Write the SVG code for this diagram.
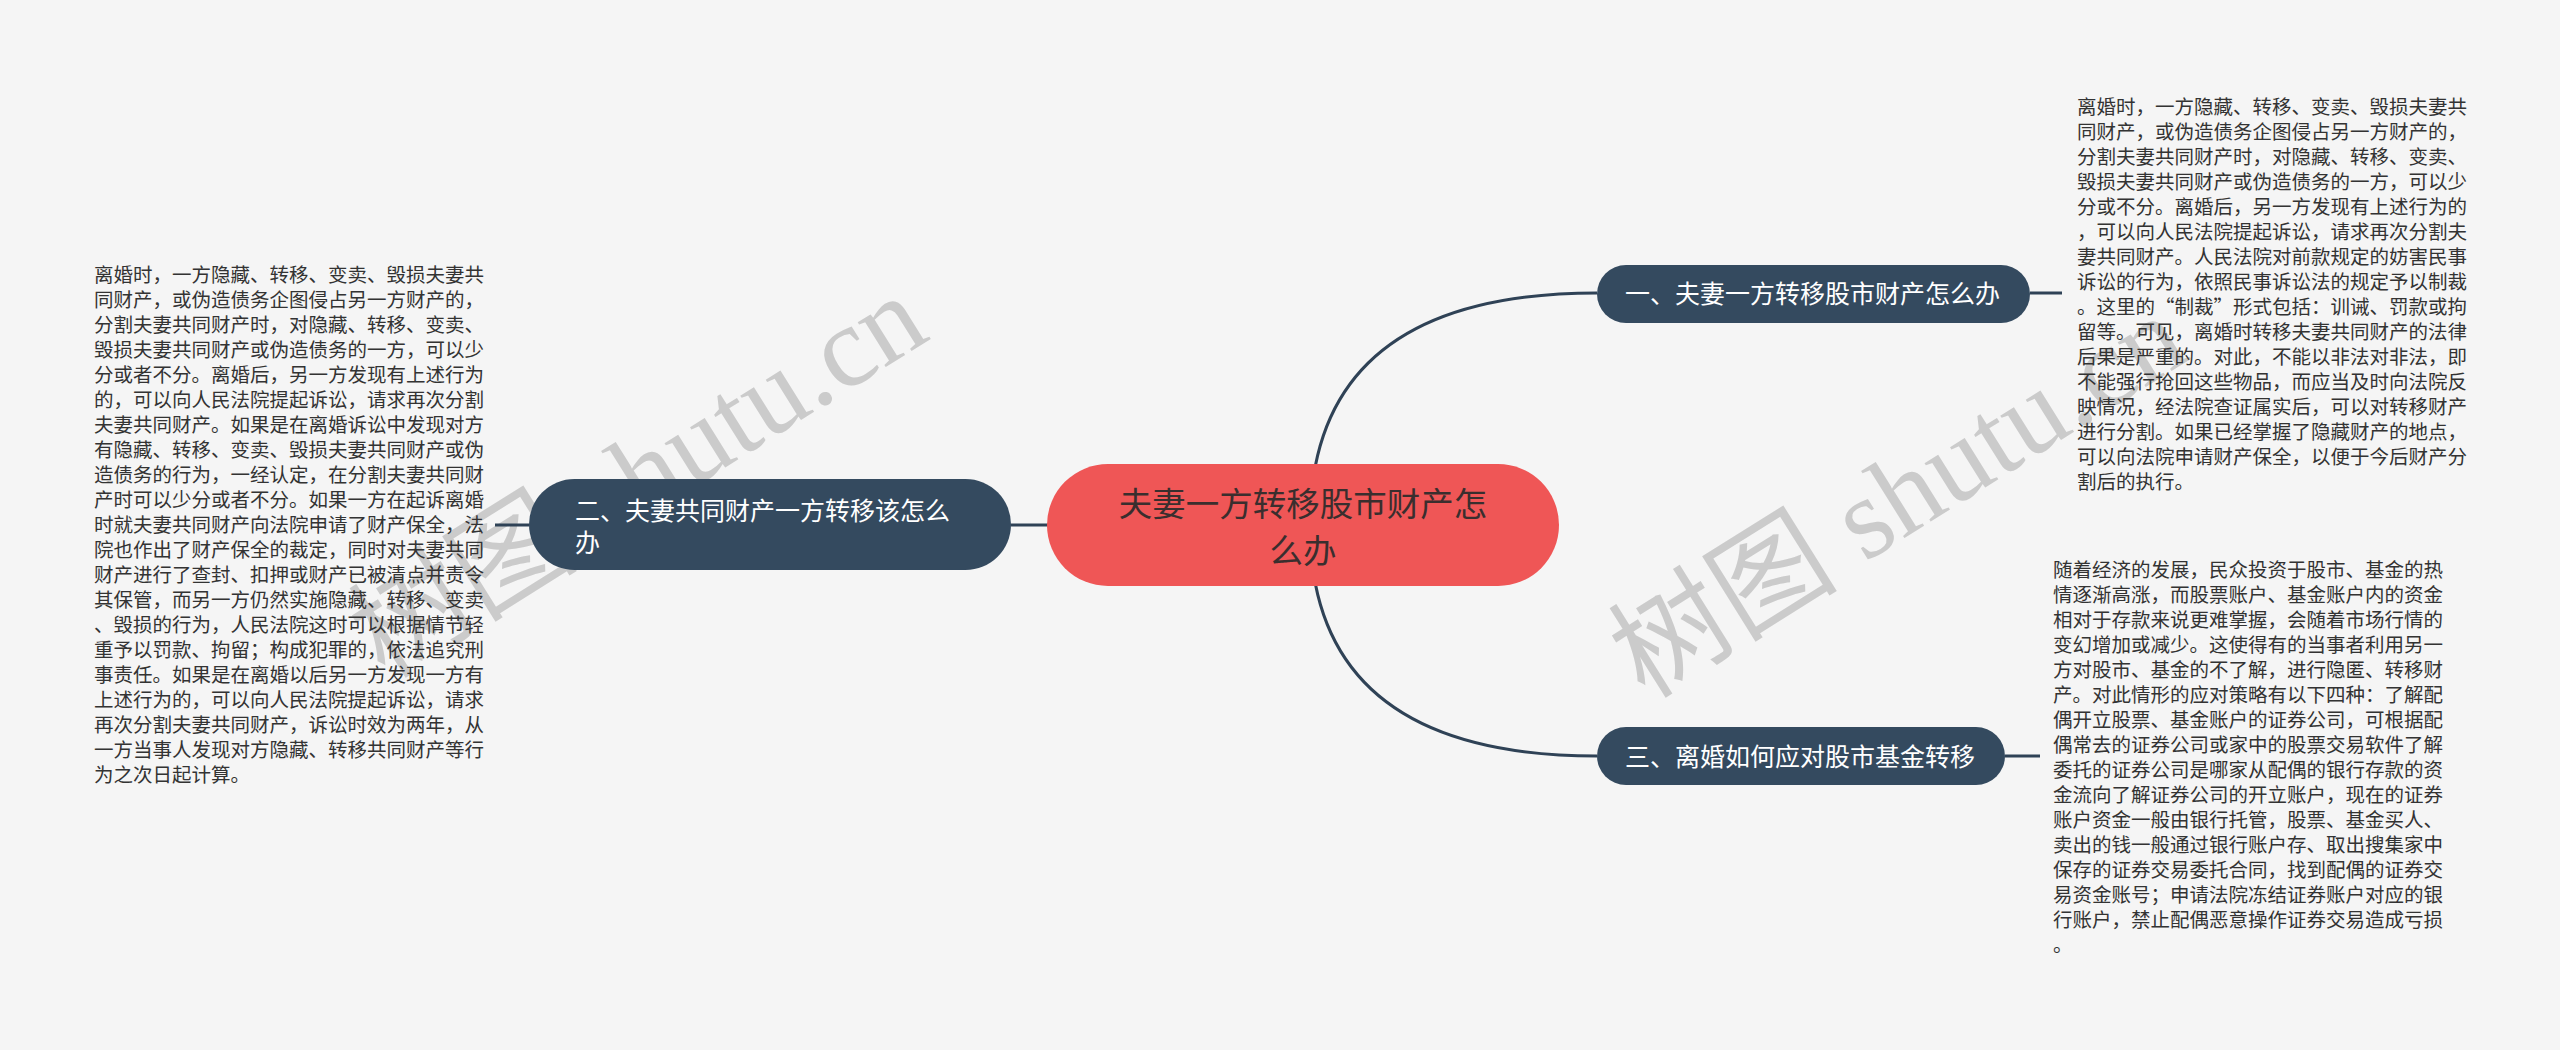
<svg xmlns="http://www.w3.org/2000/svg" width="2560" height="1050" viewBox="0 0 2560 1050">
<style>
.bg{fill:#f5f5f5}
.conn{fill:none;stroke:#2f4256;stroke-width:3}
.wm{font-family:"Liberation Serif","Noto Sans CJK SC",serif;font-size:115px;fill:#cbcbcb}
.root rect{fill:#ef5656}
.root text{font-family:"Noto Sans CJK SC",sans-serif;font-size:33.5px;fill:#3a2e2e;text-anchor:middle}
.branch rect{fill:#344a5f}
.branch text{font-family:"Noto Sans CJK SC",sans-serif;font-size:25px;fill:#ffffff}
.leaf text{font-family:"Noto Sans CJK SC",sans-serif;font-size:19.5px;fill:#333333}
</style>
<rect class="bg" x="0" y="0" width="2560" height="1050"/>
<g id="watermarks">
<text class="wm" transform="translate(385 680) rotate(-32)">树图 shutu.cn</text>
<text class="wm" transform="translate(1645 700) rotate(-32)">树图 shutu.cn</text>
</g>
<g id="connectors">
<path class="conn" d="M1100 525 H1011"/>
<path class="conn" d="M1310 525 Q1310 293 1597 293"/>
<path class="conn" d="M1310 525 Q1310 756 1597 756"/>
<path class="conn" d="M495 525 H529"/>
<path class="conn" d="M2030 293 H2062"/>
<path class="conn" d="M2005 756 H2040"/>
</g>
<g id="root" class="root">
<rect x="1047" y="464" width="512" height="122" rx="61"/>
<text x="1303" y="516">夫妻一方转移股市财产怎</text>
<text x="1303" y="563">么办</text>
</g>
<g id="branch2" class="branch">
<rect x="529" y="479" width="482" height="91" rx="45.5"/>
<text x="575" y="519.5">二、夫妻共同财产一方转移该怎么</text>
<text x="575" y="551.5">办</text>
</g>
<g id="branch1" class="branch">
<rect x="1597" y="265" width="433" height="58" rx="29"/>
<text x="1625" y="302.5">一、夫妻一方转移股市财产怎么办</text>
</g>
<g id="branch3" class="branch">
<rect x="1597" y="727" width="408" height="58" rx="29"/>
<text x="1625" y="765.5">三、离婚如何应对股市基金转移</text>
</g>
<g id="leaf2" class="leaf">
<text x="94" y="282.4">离婚时，一方隐藏、转移、变卖、毁损夫妻共</text>
<text x="94" y="307.4">同财产，或伪造债务企图侵占另一方财产的，</text>
<text x="94" y="332.4">分割夫妻共同财产时，对隐藏、转移、变卖、</text>
<text x="94" y="357.4">毁损夫妻共同财产或伪造债务的一方，可以少</text>
<text x="94" y="382.4">分或者不分。离婚后，另一方发现有上述行为</text>
<text x="94" y="407.4">的，可以向人民法院提起诉讼，请求再次分割</text>
<text x="94" y="432.4">夫妻共同财产。如果是在离婚诉讼中发现对方</text>
<text x="94" y="457.4">有隐藏、转移、变卖、毁损夫妻共同财产或伪</text>
<text x="94" y="482.4">造债务的行为，一经认定，在分割夫妻共同财</text>
<text x="94" y="507.4">产时可以少分或者不分。如果一方在起诉离婚</text>
<text x="94" y="532.4">时就夫妻共同财产向法院申请了财产保全，法</text>
<text x="94" y="557.4">院也作出了财产保全的裁定，同时对夫妻共同</text>
<text x="94" y="582.4">财产进行了查封、扣押或财产已被清点并责令</text>
<text x="94" y="607.4">其保管，而另一方仍然实施隐藏、转移、变卖</text>
<text x="94" y="632.4">、毁损的行为，人民法院这时可以根据情节轻</text>
<text x="94" y="657.4">重予以罚款、拘留；构成犯罪的，依法追究刑</text>
<text x="94" y="682.4">事责任。如果是在离婚以后另一方发现一方有</text>
<text x="94" y="707.4">上述行为的，可以向人民法院提起诉讼，请求</text>
<text x="94" y="732.4">再次分割夫妻共同财产，诉讼时效为两年，从</text>
<text x="94" y="757.4">一方当事人发现对方隐藏、转移共同财产等行</text>
<text x="94" y="782.4">为之次日起计算。</text>
</g>
<g id="leaf1" class="leaf">
<text x="2077" y="114.4">离婚时，一方隐藏、转移、变卖、毁损夫妻共</text>
<text x="2077" y="139.4">同财产，或伪造债务企图侵占另一方财产的，</text>
<text x="2077" y="164.4">分割夫妻共同财产时，对隐藏、转移、变卖、</text>
<text x="2077" y="189.4">毁损夫妻共同财产或伪造债务的一方，可以少</text>
<text x="2077" y="214.4">分或不分。离婚后，另一方发现有上述行为的</text>
<text x="2077" y="239.4">，可以向人民法院提起诉讼，请求再次分割夫</text>
<text x="2077" y="264.4">妻共同财产。人民法院对前款规定的妨害民事</text>
<text x="2077" y="289.4">诉讼的行为，依照民事诉讼法的规定予以制裁</text>
<text x="2077" y="314.4">。这里的“制裁”形式包括：训诫、罚款或拘</text>
<text x="2077" y="339.4">留等。可见，离婚时转移夫妻共同财产的法律</text>
<text x="2077" y="364.4">后果是严重的。对此，不能以非法对非法，即</text>
<text x="2077" y="389.4">不能强行抢回这些物品，而应当及时向法院反</text>
<text x="2077" y="414.4">映情况，经法院查证属实后，可以对转移财产</text>
<text x="2077" y="439.4">进行分割。如果已经掌握了隐藏财产的地点，</text>
<text x="2077" y="464.4">可以向法院申请财产保全，以便于今后财产分</text>
<text x="2077" y="489.4">割后的执行。</text>
</g>
<g id="leaf3" class="leaf">
<text x="2053" y="577.4">随着经济的发展，民众投资于股市、基金的热</text>
<text x="2053" y="602.4">情逐渐高涨，而股票账户、基金账户内的资金</text>
<text x="2053" y="627.4">相对于存款来说更难掌握，会随着市场行情的</text>
<text x="2053" y="652.4">变幻增加或减少。这使得有的当事者利用另一</text>
<text x="2053" y="677.4">方对股市、基金的不了解，进行隐匿、转移财</text>
<text x="2053" y="702.4">产。对此情形的应对策略有以下四种：了解配</text>
<text x="2053" y="727.4">偶开立股票、基金账户的证券公司，可根据配</text>
<text x="2053" y="752.4">偶常去的证券公司或家中的股票交易软件了解</text>
<text x="2053" y="777.4">委托的证券公司是哪家从配偶的银行存款的资</text>
<text x="2053" y="802.4">金流向了解证券公司的开立账户，现在的证券</text>
<text x="2053" y="827.4">账户资金一般由银行托管，股票、基金买人、</text>
<text x="2053" y="852.4">卖出的钱一般通过银行账户存、取出搜集家中</text>
<text x="2053" y="877.4">保存的证券交易委托合同，找到配偶的证券交</text>
<text x="2053" y="902.4">易资金账号；申请法院冻结证券账户对应的银</text>
<text x="2053" y="927.4">行账户，禁止配偶恶意操作证券交易造成亏损</text>
<text x="2053" y="952.4">。</text>
</g>
</svg>
